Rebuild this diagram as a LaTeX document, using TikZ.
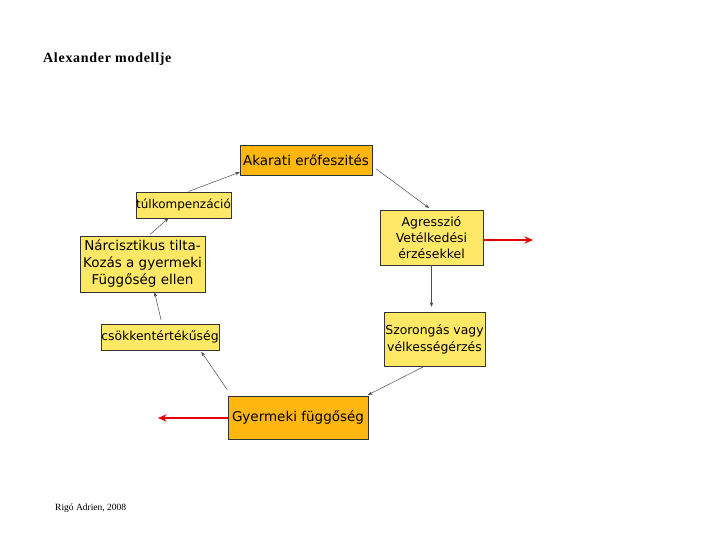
\documentclass[tikz,border=0pt]{standalone}
\usepackage{fontspec}
\setmainfont{Liberation Serif}
\newfontfamily\boxfont{DejaVu Sans}
\usepackage{tikz}
\usetikzlibrary{arrows.meta, calc, positioning}

\definecolor{boxorange}{HTML}{FFB60F}
\definecolor{boxyellow}{HTML}{FFE866}

\begin{document}
\begin{tikzpicture}[x=1pt,y=-1pt,
    box/.style={draw=black!80,fill=boxyellow,inner sep=0pt,align=center,font=\boxfont\fontsize{12.5}{16}\selectfont},
    mainbox/.style={box,fill=boxorange},
    flow/.style={-{Stealth[length=1.6mm,width=1.2mm]},black!70,line width=0.5pt},
    outflow/.style={-{Stealth[length=3mm,width=2.6mm]},red!90!black,line width=2.4pt}]
\useasboundingbox (0,0) rectangle (720,540);

    \node[anchor=base west,inner sep=0pt,font=\bfseries\addfontfeature{LetterSpace=5}\fontsize{14}{16}\selectfont] (title) at (43,63) {Alexander modellje};
    \node[anchor=base west,inner sep=0pt,font=\fontsize{9.5}{11}\selectfont] (credit) at (55,510) {Rigó Adrien, 2008};

    %
    \node[mainbox,minimum width=132pt,minimum height=30pt,font=\boxfont\fontsize{13.5}{16}\selectfont] (akarati) at (306,160) {Akarati erőfeszités};
    \node[box,minimum width=103pt,minimum height=55pt] (agresszio) at (431.5,237.5) {Agresszió\\Vetélkedési\\érzésekkel};
    \node[box,minimum width=101pt,minimum height=54pt,font=\boxfont\fontsize{12.4}{17}\selectfont] (szorongas) at (434.5,339) {Szorongás vagy\\vélkességérzés};
    \node[mainbox,minimum width=140pt,minimum height=43pt,font=\boxfont\fontsize{13.5}{16}\selectfont] (gyermeki) at (298,418) {Gyermeki függőség};
    \node[box,minimum width=118pt,minimum height=26pt,font=\boxfont\fontsize{12.4}{14}\selectfont] (csokkent) at (160,337) {csökkentértékűség};
    \node[box,minimum width=125pt,minimum height=56pt,font=\boxfont\fontsize{13.5}{17}\selectfont] (narc) at (142.5,264) {Nárcisztikus tilta-\\Kozás a gyermeki\\Függőség ellen};
    \node[box,minimum width=95pt,minimum height=26pt,font=\boxfont\fontsize{12}{14}\selectfont] (tulkomp) at (183.5,205) {túlkompenzáció};

    %
    \coordinate (outA) at (533,240);
    \coordinate (outG) at (158,418);

    %
    \draw[flow,shorten <=5pt,shorten >=3pt] ([yshift=-6pt]akarati.east) -- (agresszio.north);
    \draw[flow,shorten >=5pt] (agresszio.south) -- (agresszio.south |- szorongas.north);
    \draw[flow,shorten <=2pt,shorten >=3pt] ([xshift=-10pt]szorongas.south) -- ([xshift=-3pt]gyermeki.north east);
    \draw[flow,shorten <=8pt,shorten >=2pt] ([xshift=4pt]gyermeki.north west) -- ([xshift=-19pt]csokkent.south east);
    \draw[flow,shorten <=4pt] ([xshift=2pt]csokkent.north) -- ([xshift=12pt]narc.south);
    \draw[flow,shorten <=2pt] ([xshift=6pt]narc.north) -- ([xshift=-15pt]tulkomp.south);
    \draw[flow,shorten <=1pt] ([xshift=4pt]tulkomp.north) -- ([yshift=3pt]akarati.south west);

    %
    \draw[outflow] (agresszio.east |- outA) -- (outA);
    \draw[outflow] (gyermeki.west |- outG) -- (outG);
\end{tikzpicture}
\end{document}
